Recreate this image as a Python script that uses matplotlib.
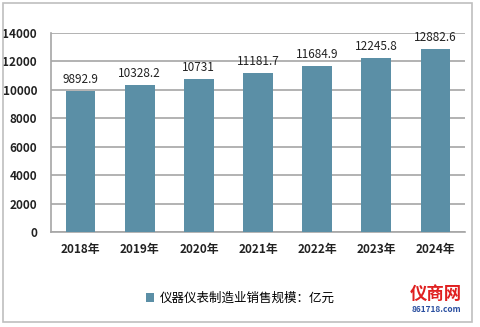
import matplotlib.pyplot as plt
from matplotlib.patches import Rectangle

plt.rcParams['font.family'] = ['Noto Sans CJK SC', 'DejaVu Sans']

years = ['2018年', '2019年', '2020年', '2021年', '2022年', '2023年', '2024年']
sales = [9892.9, 10328.2, 10731, 11181.7, 11684.9, 12245.8, 12882.6]
labels = ['9892.9', '10328.2', '10731', '11181.7', '11684.9', '12245.8', '12882.6']
yticks = [0, 2000, 4000, 6000, 8000, 10000, 12000, 14000]

bar_color = '#5b8fa6'
grid_color = '#a6a6a6'

fig = plt.figure(figsize=(4.8, 3.27), dpi=100)
fig.patches.append(Rectangle((3 / 480, 5 / 327), 469 / 480, 319 / 327,
                             transform=fig.transFigure, fill=False,
                             edgecolor='#bfbfbf', linewidth=1.2))

ax = fig.add_axes([51 / 480, 1 - 232 / 327, 414 / 480, 199 / 327])
x = range(len(years))
bars = ax.bar(x, sales, width=0.5, color=bar_color, zorder=3,
              label='仪器仪表制造业销售规模：亿元')
for xi, v, t in zip(x, sales, labels):
    ax.text(xi, v + 350, t, ha='center', va='bottom', fontsize=8.5, color='#222222')

ax.set_xlim(-0.5, len(years) - 0.5)
ax.set_ylim(0, 14000)
ax.set_yticks(yticks)
ax.set_yticklabels([str(t) for t in yticks], fontsize=8.5, fontweight='bold')
ax.set_xticks(list(x))
ax.set_xticklabels(years, fontsize=8.5, fontweight='bold')
ax.tick_params(axis='both', length=0, pad=8, colors='#222222')
ax.tick_params(axis='y', pad=10)
ax.grid(axis='y', color=grid_color, linewidth=1.2, zorder=0)
for s in ['top', 'right']:
    ax.spines[s].set_visible(False)
ax.spines['left'].set_color(grid_color)
ax.spines['bottom'].set_color(grid_color)
ax.spines['left'].set_linewidth(1.2)
ax.spines['bottom'].set_linewidth(1.2)

fig.legend(handles=[bars], loc='center', bbox_to_anchor=(240 / 480, 1 - 298 / 327),
           frameon=False, fontsize=9, handlelength=0.7, handleheight=0.7,
           handletextpad=0.4)

# watermark
fig.text(410 / 480, 1 - 294 / 327, '仪商网', color='#e02020', fontsize=12.5,
         fontweight='bold', va='center', ha='left')
fig.text(412 / 480, 1 - 309 / 327, '861718.com', color='#2a4fa0', fontsize=6,
         fontstyle='italic', fontweight='bold', va='center', ha='left')

fig.savefig('out.png', dpi=100)
